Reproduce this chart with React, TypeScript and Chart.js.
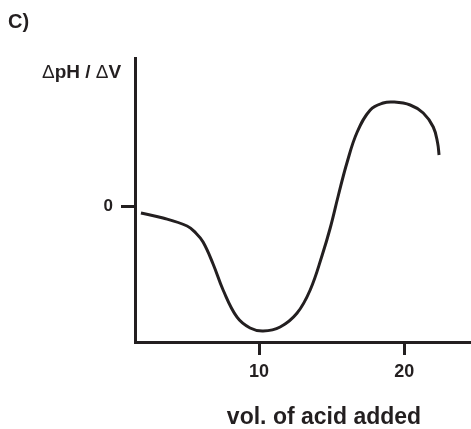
import React, { useEffect, useRef } from "react";
import { Chart, registerables } from "chart.js";

Chart.register(...registerables);

const volumes = [1.86, 3.38, 5.04, 5.6, 6.14, 6.83, 7.52, 8.48, 9.38, 10.28, 11.45, 12.62, 13.52, 14.35, 14.9, 15.45, 16.07, 16.76, 17.66, 18.55, 19.24, 20.41, 21.31, 22.0, 22.3, 22.4];
const dpHdV = [-0.175, -0.3, -0.5, -0.66, -0.9, -1.45, -2.1, -2.78, -3.05, -3.125, -3.025, -2.675, -2.1, -1.225, -0.55, 0.25, 1.1, 1.85, 2.4, 2.575, 2.6, 2.525, 2.325, 1.975, 1.575, 1.275];
const xTickValues = [10, 20];
const yTickValues = [0];
const panelLabel = "C)";
const yAxisTitle = ["Δ", "pH / ", "Δ", "V"];
const xAxisTitle = "vol. of acid added";

const INK = "#231f20";
const FAMILY = "'Liberation Sans', Arial, Helvetica, sans-serif";

export default function App() {
  const ref = useRef<HTMLCanvasElement | null>(null);

  useEffect(() => {
    if (!ref.current) return;
    const textPlugin = {
      id: "texts",
      afterDraw(chart: any) {
        const ctx = chart.ctx;
        ctx.save();
        ctx.fillStyle = INK;
        ctx.textBaseline = "alphabetic";
        ctx.textAlign = "left";
        ctx.font = `bold 20px ${FAMILY}`;
        ctx.fillText(panelLabel, 8, 28);
        let x = 42;
        const yb = 78;
        yAxisTitle.forEach((part) => {
          ctx.font = part === "Δ" ? `normal 19px ${FAMILY}` : `bold 19px ${FAMILY}`;
          ctx.fillText(part, x, yb);
          x += ctx.measureText(part).width;
        });
        ctx.font = `bold 23px ${FAMILY}`;
        ctx.textAlign = "center";
        ctx.fillText(xAxisTitle, 324, 424);
        ctx.restore();
      },
    };

    const chart = new Chart(ref.current, {
      type: "line",
      data: {
        datasets: [
          {
            data: volumes.map((v, i) => ({ x: v, y: dpHdV[i] })),
            borderColor: INK,
            borderWidth: 3,
            pointRadius: 0,
            tension: 0.4,
            fill: false,
          },
        ],
      },
      options: {
        animation: false,
        responsive: false,
        layout: { padding: { top: 58, right: 0, bottom: 0, left: 0 } },
        plugins: { legend: { display: false }, tooltip: { enabled: false } },
        scales: {
          x: {
            type: "linear",
            min: 1.45,
            max: 24.6,
            afterBuildTicks: (s: any) => {
              s.ticks = xTickValues.map((v) => ({ value: v }));
            },
            afterFit: (s: any) => {
              s.height = 87;
            },
            grid: {
              drawOnChartArea: false,
              drawTicks: true,
              tickLength: 13,
              tickWidth: 3,
              tickColor: INK,
            },
            border: { display: true, color: INK, width: 3 },
            ticks: {
              color: INK,
              font: { family: FAMILY, size: 18, weight: "bold" },
              padding: 6,
              maxRotation: 0,
            },
          },
          y: {
            type: "linear",
            min: -3.4,
            max: 3.7,
            afterBuildTicks: (s: any) => {
              s.ticks = yTickValues.map((v) => ({ value: v }));
            },
            afterFit: (s: any) => {
              s.width = 135;
            },
            grid: {
              drawOnChartArea: false,
              drawTicks: true,
              tickLength: 14,
              tickWidth: 3,
              tickColor: INK,
            },
            border: { display: true, color: INK, width: 3 },
            ticks: {
              color: INK,
              font: { family: FAMILY, size: 17, weight: "bold" },
              padding: 8,
            },
          },
        },
      },
      plugins: [textPlugin],
    } as any);
    return () => chart.destroy();
  }, []);

  return (
    <div style={{ position: "absolute", left: 0, top: 0, width: 471, height: 429, background: "#fff" }}>
      <canvas ref={ref} width={471} height={429} />
    </div>
  );
}
